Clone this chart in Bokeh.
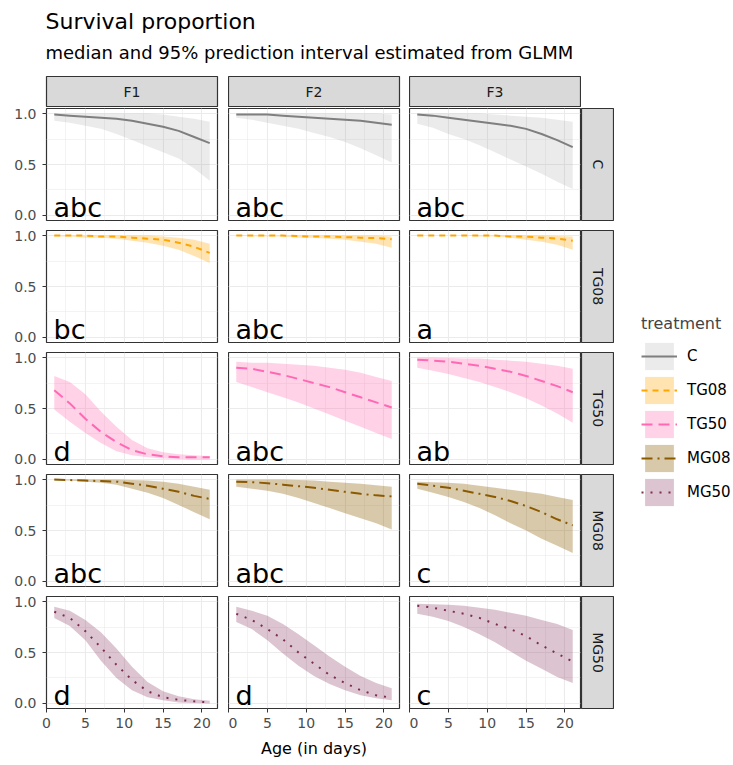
import math
from bokeh.plotting import figure
from bokeh.models import (Range1d, FixedTicker, Label, Legend, LegendItem,
                          ColumnDataSource, PrintfTickFormatter)
from bokeh.layouts import row, column
from bokeh.embed import file_html
from bokeh.resources import INLINE

# ---------------- data ----------------
days = [1, 3, 5, 7, 9, 11, 13, 15, 17, 19, 21]
generations = ["F1", "F2", "F3"]
treatments = ["C", "TG08", "TG50", "MG08", "MG50"]

# each list: [F1, F2, F3]
C_med = [[0.99, 0.98, 0.97, 0.96, 0.95, 0.93, 0.90, 0.87, 0.83, 0.77, 0.71],
         [0.99, 0.99, 0.99, 0.98, 0.97, 0.96, 0.95, 0.94, 0.93, 0.91, 0.89],
         [0.99, 0.98, 0.96, 0.94, 0.92, 0.90, 0.88, 0.85, 0.80, 0.74, 0.67]]
C_lo = [[0.93, 0.91, 0.88, 0.85, 0.80, 0.74, 0.68, 0.62, 0.56, 0.46, 0.34],
        [0.96, 0.94, 0.91, 0.88, 0.85, 0.81, 0.77, 0.72, 0.66, 0.59, 0.52],
        [0.90, 0.86, 0.80, 0.75, 0.69, 0.62, 0.55, 0.48, 0.41, 0.33, 0.26]]
C_hi = [[1.0, 1.0, 1.0, 1.0, 1.0, 1.0, 1.0, 0.99, 0.97, 0.95, 0.92],
        [1.0, 1.0, 1.0, 1.0, 1.0, 1.0, 1.0, 1.0, 1.0, 1.0, 0.99],
        [1.0, 1.0, 1.0, 1.0, 1.0, 0.99, 0.98, 0.97, 0.96, 0.94, 0.92]]

TG08_med = [[1.0, 1.0, 1.0, 0.99, 0.99, 0.98, 0.97, 0.96, 0.93, 0.89, 0.83],
            [1.0, 1.0, 1.0, 1.0, 0.995, 0.99, 0.99, 0.985, 0.98, 0.975, 0.965],
            [1.0, 1.0, 1.0, 1.0, 1.0, 1.0, 0.99, 0.99, 0.98, 0.97, 0.95]]
TG08_lo = [[0.99, 0.99, 0.98, 0.98, 0.97, 0.95, 0.93, 0.90, 0.86, 0.80, 0.73],
           [1.0, 0.99, 0.99, 0.99, 0.98, 0.98, 0.97, 0.96, 0.94, 0.92, 0.88],
           [1.0, 1.0, 1.0, 1.0, 0.99, 0.99, 0.98, 0.96, 0.94, 0.91, 0.86]]
TG08_hi = [[1.0, 1.0, 1.0, 1.0, 1.0, 1.0, 1.0, 0.99, 0.98, 0.96, 0.92],
           [1.0, 1.0, 1.0, 1.0, 1.0, 1.0, 1.0, 1.0, 1.0, 1.0, 0.99],
           [1.0, 1.0, 1.0, 1.0, 1.0, 1.0, 1.0, 1.0, 1.0, 0.995, 0.99]]

TG50_med = [[0.68, 0.55, 0.40, 0.27, 0.17, 0.09, 0.05, 0.03, 0.02, 0.02, 0.02],
            [0.90, 0.89, 0.86, 0.83, 0.79, 0.75, 0.71, 0.66, 0.61, 0.56, 0.51],
            [0.98, 0.97, 0.96, 0.94, 0.92, 0.89, 0.86, 0.82, 0.77, 0.72, 0.66]]
TG50_lo = [[0.49, 0.37, 0.26, 0.16, 0.08, 0.04, 0.02, 0.01, 0.005, 0.0, 0.0],
           [0.76, 0.71, 0.66, 0.61, 0.56, 0.50, 0.44, 0.38, 0.32, 0.26, 0.20],
           [0.90, 0.87, 0.84, 0.80, 0.76, 0.71, 0.66, 0.60, 0.53, 0.45, 0.36]]
TG50_hi = [[0.82, 0.76, 0.64, 0.47, 0.32, 0.19, 0.11, 0.07, 0.05, 0.04, 0.03],
           [0.96, 0.95, 0.95, 0.94, 0.93, 0.92, 0.90, 0.88, 0.85, 0.81, 0.77],
           [1.0, 1.0, 0.995, 0.99, 0.99, 0.98, 0.97, 0.96, 0.94, 0.92, 0.89]]

MG08_med = [[1.0, 0.995, 0.99, 0.985, 0.98, 0.96, 0.94, 0.91, 0.88, 0.84, 0.81],
            [0.98, 0.975, 0.965, 0.95, 0.935, 0.92, 0.90, 0.88, 0.86, 0.845, 0.835],
            [0.96, 0.94, 0.92, 0.89, 0.86, 0.83, 0.79, 0.74, 0.68, 0.61, 0.55]]
MG08_lo = [[0.99, 0.99, 0.98, 0.97, 0.95, 0.91, 0.87, 0.82, 0.75, 0.68, 0.61],
           [0.93, 0.91, 0.89, 0.86, 0.82, 0.77, 0.72, 0.67, 0.62, 0.57, 0.51],
           [0.91, 0.87, 0.83, 0.78, 0.72, 0.65, 0.57, 0.50, 0.42, 0.35, 0.28]]
MG08_hi = [[1.0, 1.0, 1.0, 1.0, 1.0, 0.995, 0.99, 0.98, 0.96, 0.93, 0.90],
           [1.0, 1.0, 1.0, 1.0, 0.995, 0.99, 0.98, 0.97, 0.96, 0.945, 0.93],
           [0.98, 0.975, 0.97, 0.96, 0.94, 0.92, 0.90, 0.88, 0.86, 0.83, 0.80]]

MG50_med = [[0.90, 0.84, 0.71, 0.55, 0.38, 0.23, 0.12, 0.06, 0.035, 0.02, 0.01],
            [0.88, 0.82, 0.73, 0.63, 0.50, 0.39, 0.28, 0.20, 0.13, 0.08, 0.055],
            [0.96, 0.94, 0.91, 0.88, 0.84, 0.78, 0.73, 0.66, 0.57, 0.49, 0.41]]
MG50_lo = [[0.84, 0.76, 0.62, 0.42, 0.25, 0.13, 0.06, 0.03, 0.01, 0.005, 0.0],
           [0.80, 0.73, 0.62, 0.49, 0.37, 0.27, 0.19, 0.13, 0.08, 0.05, 0.03],
           [0.88, 0.85, 0.81, 0.75, 0.68, 0.60, 0.51, 0.42, 0.34, 0.26, 0.20]]
MG50_hi = [[0.95, 0.91, 0.82, 0.70, 0.54, 0.36, 0.21, 0.12, 0.07, 0.04, 0.025],
           [0.95, 0.91, 0.86, 0.78, 0.68, 0.57, 0.46, 0.36, 0.27, 0.20, 0.15],
           [0.98, 0.975, 0.97, 0.96, 0.94, 0.92, 0.89, 0.86, 0.82, 0.78, 0.72]]

letters = [["abc", "abc", "abc"],
           ["bc", "abc", "a"],
           ["d", "abc", "ab"],
           ["abc", "abc", "c"],
           ["d", "d", "c"]]

x_ticks = [0, 5, 10, 15, 20]
x_minor = [2.5, 7.5, 12.5, 17.5]
y_ticks = [0.0, 0.5, 1.0]
y_minor = [0.25, 0.75]

title_text = "Survival proportion"
subtitle_text = "median and 95% prediction interval estimated from GLMM"
x_label = "Age (in days)"
legend_title = "treatment"

# ---------------- styles ----------------
series = {
    "C": dict(med=C_med, lo=C_lo, hi=C_hi),
    "TG08": dict(med=TG08_med, lo=TG08_lo, hi=TG08_hi),
    "TG50": dict(med=TG50_med, lo=TG50_lo, hi=TG50_hi),
    "MG08": dict(med=MG08_med, lo=MG08_lo, hi=MG08_hi),
    "MG50": dict(med=MG50_med, lo=MG50_lo, hi=MG50_hi),
}
line_col = {"C": "#7F7F7F", "TG08": "#FFA500", "TG50": "#FF69B4",
            "MG08": "#8B5A00", "MG50": "#7E2D52"}
fill_col = {"C": "#808080", "TG08": "#FFA500", "TG50": "#FF69B4",
            "MG08": "#8B5A00", "MG50": "#8B3A62"}
fill_alpha = {"C": 0.16, "TG08": 0.3, "TG50": 0.3, "MG08": 0.33, "MG50": 0.3}
dash = {"C": "solid", "TG08": "6 5", "TG50": "11 6", "MG08": "11 5 2 5", "MG50": "2 7"}

FONT = "DejaVu Sans"
FRAME_W, FRAME_H = 171, 112
LEFT = [46, 0, 0]
RIGHT = [11, 10, 1]
STRIP_W = 33
LAST_BOTTOM = 52
GRID = "#EBEBEB"
BORDER = "#333333"
STRIP = "#D9D9D9"
HEADER_H = 75
TOTAL_W = 731


def bare(p):
    p.xgrid.visible = False
    p.ygrid.visible = False


def make_panel(ti, gi):
    t = treatments[ti]
    last = ti == len(treatments) - 1
    bottom = LAST_BOTTOM if last else 9
    p = figure(width=LEFT[gi] + FRAME_W + RIGHT[gi], height=1 + FRAME_H + bottom,
               x_range=Range1d(0, 22), y_range=Range1d(-0.05, 1.05),
               x_axis_location="below" if last else None,
               y_axis_location="left" if gi == 0 else None,
               min_border_left=LEFT[gi], min_border_right=RIGHT[gi],
               min_border_top=1, min_border_bottom=bottom,
               output_backend="svg", toolbar_location=None)
    p.background_fill_color = "white"
    p.border_fill_color = "white"
    p.outline_line_color = BORDER
    p.outline_line_width = 1.2
    p.xgrid.ticker = FixedTicker(ticks=x_ticks, minor_ticks=x_minor)
    p.ygrid.ticker = FixedTicker(ticks=y_ticks, minor_ticks=y_minor)
    for g in (p.xgrid, p.ygrid):
        g.grid_line_color = GRID
        g.grid_line_width = 1.1
        g.minor_grid_line_color = GRID
        g.minor_grid_line_width = 0.6
    if last:
        ax = p.xaxis[0]
        ax.ticker = FixedTicker(ticks=x_ticks)
        ax.axis_label = x_label
        ax.axis_label_text_font = FONT
        ax.axis_label_text_font_size = "16px"
        ax.axis_label_text_font_style = "normal"
        ax.axis_label_text_color = "black" if gi == 1 else None
        ax.axis_label_standoff = 8
    if gi == 0:
        ax = p.yaxis[0]
        ax.ticker = FixedTicker(ticks=y_ticks)
        ax.formatter = PrintfTickFormatter(format="%.1f")
    for ax in p.axis:
        ax.axis_line_color = None
        ax.major_tick_line_color = BORDER
        ax.major_tick_out = 4
        ax.major_tick_in = 0
        ax.minor_tick_line_color = None
        ax.major_label_text_font = FONT
        ax.major_label_text_font_size = "14px"
        ax.major_label_text_color = "#4D4D4D"
    if gi == 0:
        p.yaxis[0].major_label_standoff = 6
    if last:
        p.xaxis[0].major_label_standoff = 5
    d = series[t]
    p.varea(x=days, y1=d["lo"][gi], y2=d["hi"][gi],
            fill_color=fill_col[t], fill_alpha=fill_alpha[t])
    p.line(x=days, y=d["med"][gi], line_color=line_col[t], line_width=2,
           line_dash=dash[t])
    p.add_layout(Label(x=0.9, y=0.08, text=letters[ti][gi], text_font=FONT,
                       text_font_size="27px", text_color="black",
                       text_baseline="alphabetic", text_align="left"))
    return p


def make_top_strip(gi):
    s = figure(width=LEFT[gi] + FRAME_W + RIGHT[gi], height=32,
               x_range=Range1d(0, 1), y_range=Range1d(0, 1),
               x_axis_location=None, y_axis_location=None,
               min_border_left=LEFT[gi], min_border_right=RIGHT[gi],
               min_border_top=1, min_border_bottom=0,
               output_backend="svg", toolbar_location=None)
    bare(s)
    s.background_fill_color = STRIP
    s.border_fill_color = "white"
    s.outline_line_color = BORDER
    s.outline_line_width = 1.2
    s.add_layout(Label(x=0.5, y=0.5, text=generations[gi], text_font=FONT,
                       text_font_size="14px", text_color="#1A1A1A",
                       text_align="center", text_baseline="middle"))
    return s


def make_right_strip(ti):
    last = ti == len(treatments) - 1
    bottom = LAST_BOTTOM if last else 9
    s = figure(width=STRIP_W, height=1 + FRAME_H + bottom,
               x_range=Range1d(0, 1), y_range=Range1d(0, 1),
               x_axis_location=None, y_axis_location=None,
               min_border_left=0, min_border_right=1,
               min_border_top=1, min_border_bottom=bottom,
               output_backend="svg", toolbar_location=None)
    bare(s)
    s.background_fill_color = STRIP
    s.border_fill_color = "white"
    s.outline_line_color = BORDER
    s.outline_line_width = 1.2
    s.add_layout(Label(x=0.5, y=0.5, text=treatments[ti], text_font=FONT,
                       text_font_size="14px", text_color="#1A1A1A",
                       text_align="center", text_baseline="middle",
                       angle=-math.pi / 2))
    return s


# header
header = figure(width=TOTAL_W, height=HEADER_H, x_range=Range1d(0, TOTAL_W),
                y_range=Range1d(0, HEADER_H),
                x_axis_location=None, y_axis_location=None,
                min_border_left=0, min_border_right=0, min_border_top=0, min_border_bottom=0,
                output_backend="svg", toolbar_location=None)
bare(header)
header.outline_line_color = None
header.add_layout(Label(x=45, y=HEADER_H - 21, text=title_text, text_font=FONT,
                        text_font_size="22px", text_color="black",
                        text_baseline="alphabetic"))
header.add_layout(Label(x=45, y=HEADER_H - 52, text=subtitle_text, text_font=FONT,
                        text_font_size="18px", text_color="black",
                        text_baseline="alphabetic"))

# facets
rows = [row(*[make_top_strip(g) for g in range(3)], spacing=0)]
for ti in range(len(treatments)):
    rows.append(row(*[make_panel(ti, g) for g in range(3)], make_right_strip(ti), spacing=0))
facets = column(*rows, spacing=0)

# legend
facet_w = sum(LEFT) + 3 * FRAME_W + sum(RIGHT) + STRIP_W
facet_h = 32 + 4 * 122 + (1 + FRAME_H + LAST_BOTTOM)
lf = figure(width=TOTAL_W - facet_w, height=facet_h,
            x_range=Range1d(0, 1), y_range=Range1d(0, 1),
            x_axis_location=None, y_axis_location=None,
            min_border_left=641 - facet_w, min_border_right=0, min_border_top=239,
            min_border_bottom=0,
            output_backend="svg", toolbar_location=None)
bare(lf)
lf.outline_line_color = None
# legend samples only: points lie outside the (clipped) frame range
hidden = ColumnDataSource(dict(x=[5, 6], y=[5, 5], y1=[5, 5], y2=[6, 6]))
items = []
for t in treatments:
    a = lf.varea(x="x", y1="y1", y2="y2", source=hidden,
                 fill_color=fill_col[t], fill_alpha=fill_alpha[t])
    l = lf.line(x="x", y="y", source=hidden, line_color=line_col[t],
                line_width=2, line_dash=dash[t])
    items.append(LegendItem(label=t, renderers=[a, l]))
legend = Legend(items=items, title=legend_title, location="top_left",
                margin=0, padding=0, spacing=-2,
                glyph_width=36, glyph_height=34, label_standoff=10,
                border_line_color=None, background_fill_alpha=0,
                title_text_font=FONT, title_text_font_size="16px",
                title_text_font_style="normal", title_standoff=6,
                label_text_font=FONT, label_text_font_size="15px",
                label_text_color="black")
lf.add_layout(legend, "center")

layout = column(header, row(facets, lf, spacing=0), spacing=0)

open("out.html", "w").write(file_html(layout, INLINE))
